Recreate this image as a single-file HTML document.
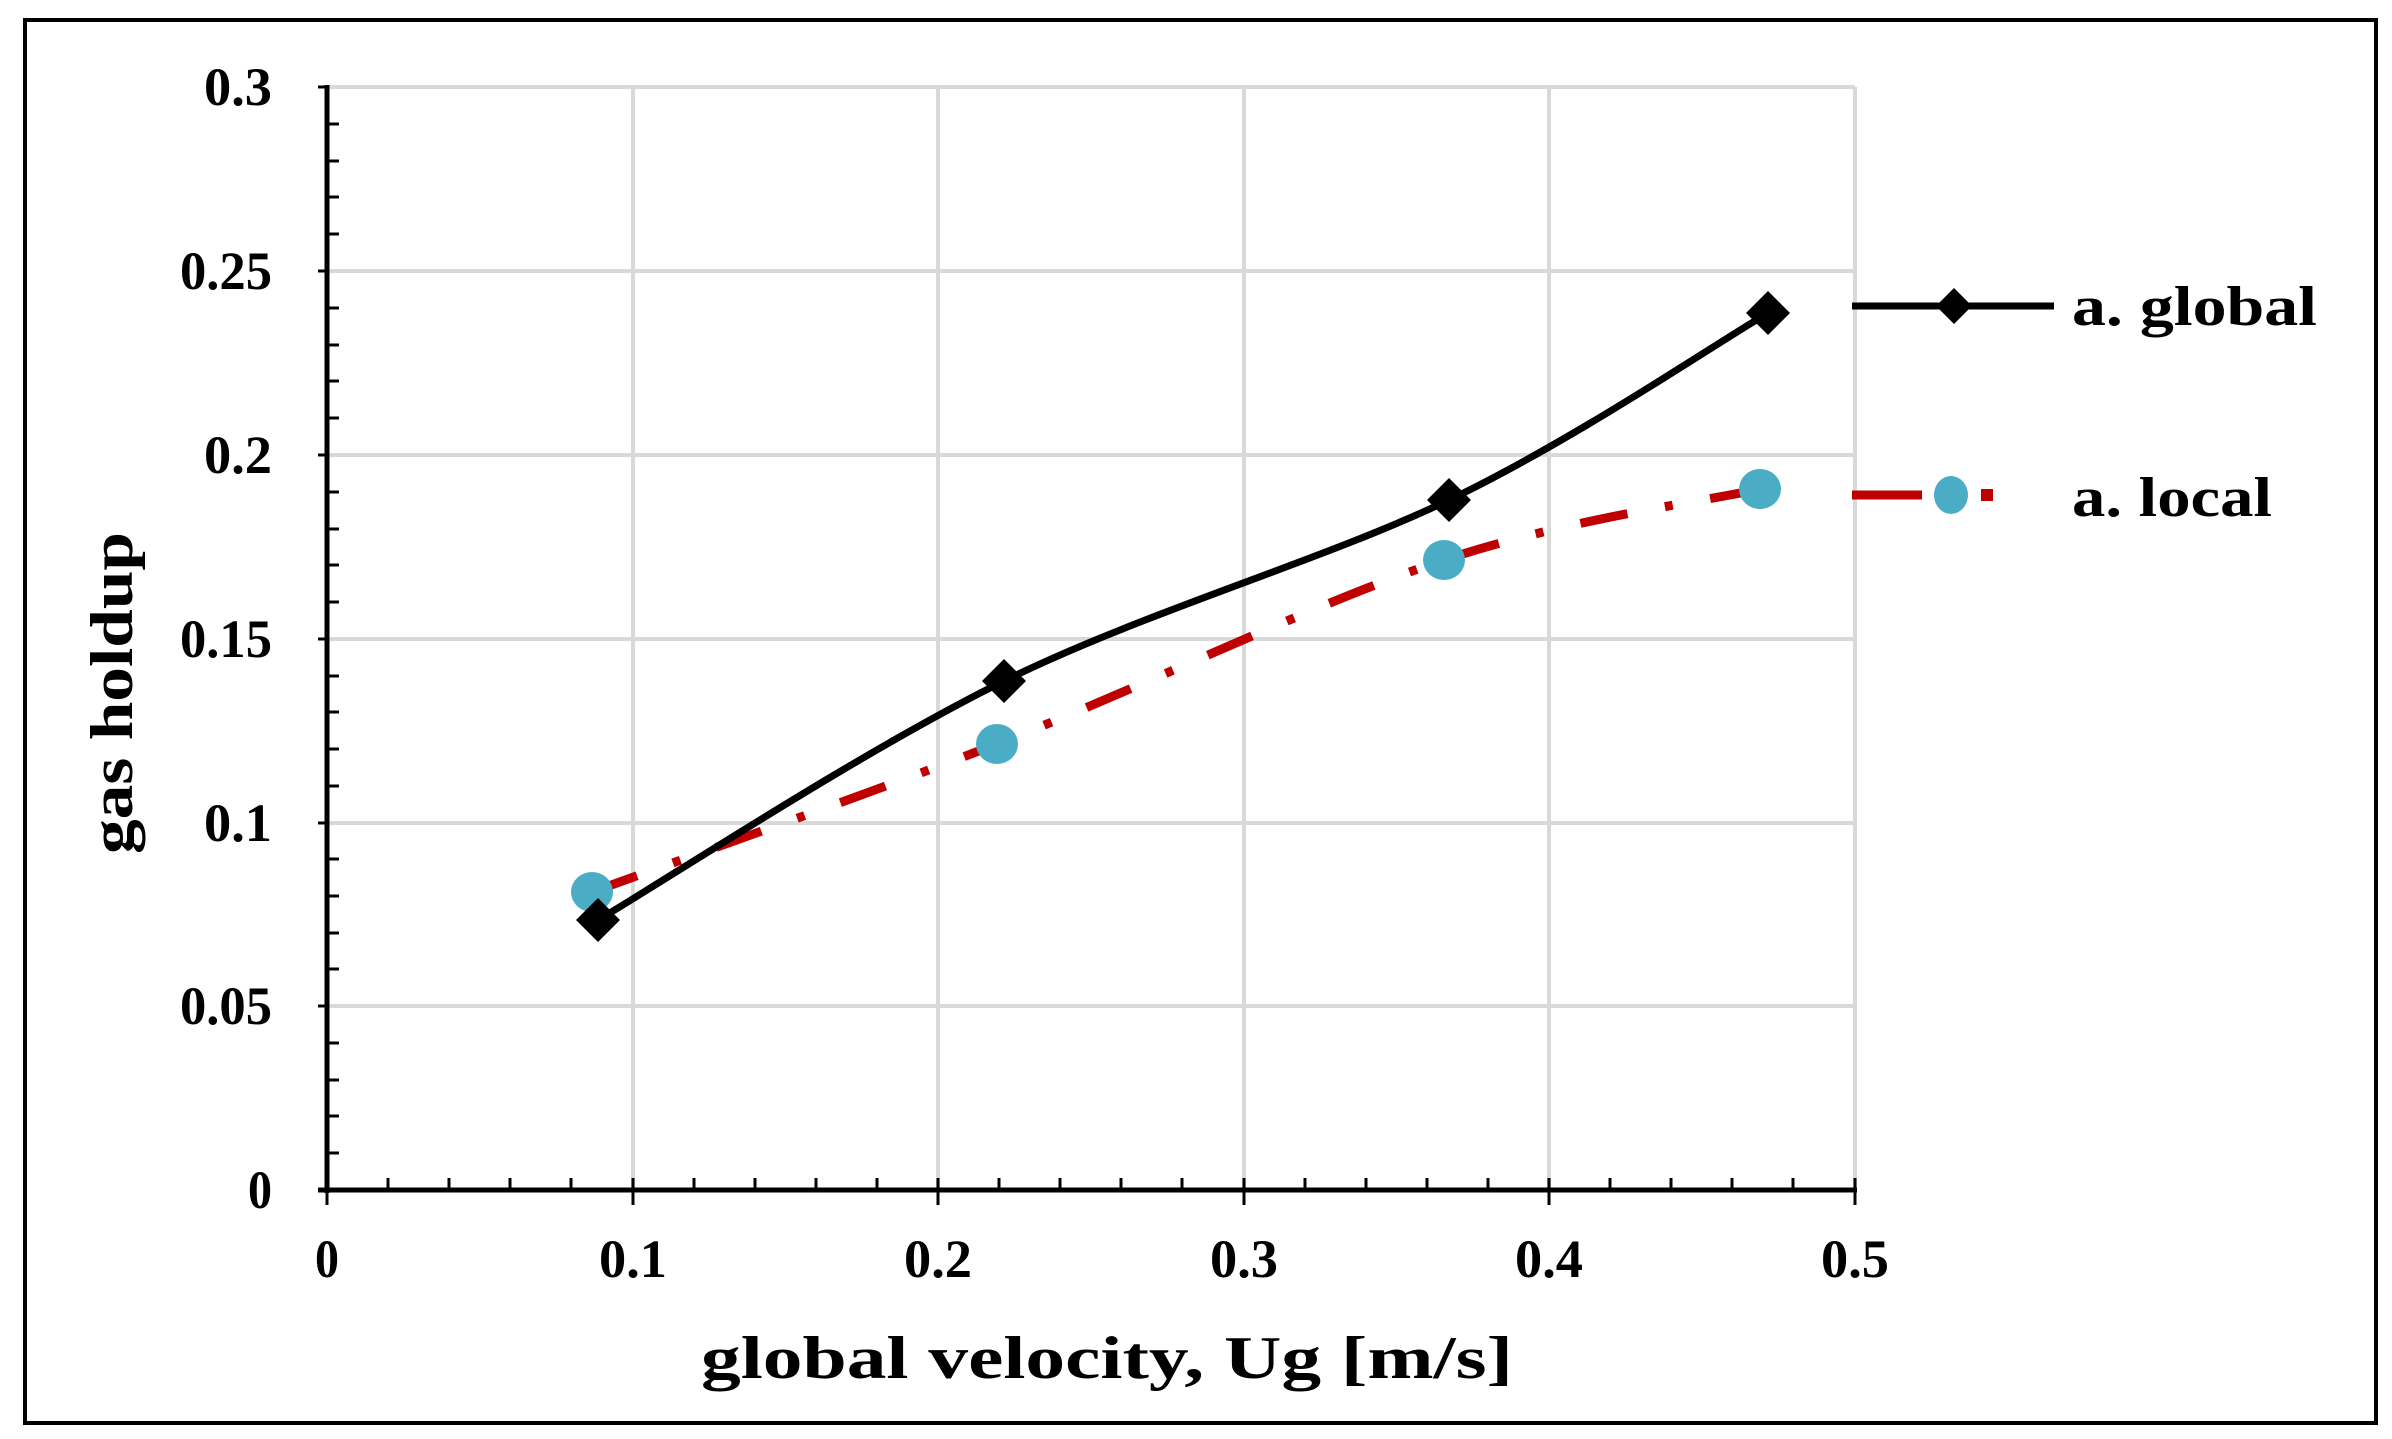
<!DOCTYPE html>
<html><head><meta charset="utf-8"><style>html,body{margin:0;padding:0;background:#fff}svg{display:block}</style></head><body>
<svg width="2392" height="1439" viewBox="0 0 2392 1439" xmlns="http://www.w3.org/2000/svg" font-family="Liberation Serif, serif" font-weight="bold">
<rect x="0" y="0" width="2392" height="1439" fill="#fff"/>
<rect x="25" y="20" width="2351" height="1403" fill="none" stroke="#000" stroke-width="4"/>
<g stroke="#d9d9d9" stroke-width="4">
<line x1="327" y1="271" x2="1855" y2="271"/><line x1="327" y1="455" x2="1855" y2="455"/><line x1="327" y1="639" x2="1855" y2="639"/><line x1="327" y1="823" x2="1855" y2="823"/><line x1="327" y1="1006" x2="1855" y2="1006"/><line x1="327" y1="87" x2="1855" y2="87"/>
<line x1="633" y1="87" x2="633" y2="1190"/><line x1="938" y1="87" x2="938" y2="1190"/><line x1="1244" y1="87" x2="1244" y2="1190"/><line x1="1549" y1="87" x2="1549" y2="1190"/><line x1="1855" y1="87" x2="1855" y2="1190"/>
</g>
<g stroke="#000" stroke-width="3">
<line x1="327" y1="1153" x2="339" y2="1153"/><line x1="327" y1="1116" x2="339" y2="1116"/><line x1="327" y1="1080" x2="339" y2="1080"/><line x1="327" y1="1043" x2="339" y2="1043"/>
<line x1="327" y1="969" x2="339" y2="969"/><line x1="327" y1="933" x2="339" y2="933"/><line x1="327" y1="896" x2="339" y2="896"/><line x1="327" y1="859" x2="339" y2="859"/>
<line x1="327" y1="786" x2="339" y2="786"/><line x1="327" y1="749" x2="339" y2="749"/><line x1="327" y1="712" x2="339" y2="712"/><line x1="327" y1="676" x2="339" y2="676"/>
<line x1="327" y1="602" x2="339" y2="602"/><line x1="327" y1="565" x2="339" y2="565"/><line x1="327" y1="529" x2="339" y2="529"/><line x1="327" y1="492" x2="339" y2="492"/>
<line x1="327" y1="418" x2="339" y2="418"/><line x1="327" y1="381" x2="339" y2="381"/><line x1="327" y1="345" x2="339" y2="345"/><line x1="327" y1="308" x2="339" y2="308"/>
<line x1="327" y1="234" x2="339" y2="234"/><line x1="327" y1="197" x2="339" y2="197"/><line x1="327" y1="161" x2="339" y2="161"/><line x1="327" y1="124" x2="339" y2="124"/>
<line x1="318" y1="87" x2="327" y2="87"/><line x1="318" y1="271" x2="327" y2="271"/><line x1="318" y1="455" x2="327" y2="455"/><line x1="318" y1="639" x2="327" y2="639"/><line x1="318" y1="823" x2="327" y2="823"/><line x1="318" y1="1006" x2="327" y2="1006"/><line x1="318" y1="1190" x2="327" y2="1190"/>
</g>
<g stroke="#000" stroke-width="3">
<line x1="388" y1="1178" x2="388" y2="1190"/><line x1="449" y1="1178" x2="449" y2="1190"/><line x1="510" y1="1178" x2="510" y2="1190"/><line x1="571" y1="1178" x2="571" y2="1190"/>
<line x1="694" y1="1178" x2="694" y2="1190"/><line x1="755" y1="1178" x2="755" y2="1190"/><line x1="816" y1="1178" x2="816" y2="1190"/><line x1="877" y1="1178" x2="877" y2="1190"/>
<line x1="999" y1="1178" x2="999" y2="1190"/><line x1="1060" y1="1178" x2="1060" y2="1190"/><line x1="1121" y1="1178" x2="1121" y2="1190"/><line x1="1182" y1="1178" x2="1182" y2="1190"/>
<line x1="1305" y1="1178" x2="1305" y2="1190"/><line x1="1366" y1="1178" x2="1366" y2="1190"/><line x1="1427" y1="1178" x2="1427" y2="1190"/><line x1="1488" y1="1178" x2="1488" y2="1190"/>
<line x1="1610" y1="1178" x2="1610" y2="1190"/><line x1="1671" y1="1178" x2="1671" y2="1190"/><line x1="1732" y1="1178" x2="1732" y2="1190"/><line x1="1793" y1="1178" x2="1793" y2="1190"/>
<line x1="327" y1="1190" x2="327" y2="1205"/><line x1="633" y1="1178" x2="633" y2="1205"/><line x1="938" y1="1178" x2="938" y2="1205"/><line x1="1244" y1="1178" x2="1244" y2="1205"/><line x1="1549" y1="1178" x2="1549" y2="1205"/><line x1="1855" y1="1178" x2="1855" y2="1205"/>
</g>
<line x1="327" y1="85" x2="327" y2="1193" stroke="#000" stroke-width="5"/>
<line x1="318" y1="1190" x2="1857" y2="1190" stroke="#000" stroke-width="5"/>
<g font-size="54" text-anchor="end" fill="#000" lengthAdjust="spacingAndGlyphs">
<text x="272" y="105" textLength="68" lengthAdjust="spacingAndGlyphs">0.3</text>
<text x="272" y="289" textLength="92" lengthAdjust="spacingAndGlyphs">0.25</text>
<text x="272" y="473" textLength="68" lengthAdjust="spacingAndGlyphs">0.2</text>
<text x="272" y="657" textLength="92" lengthAdjust="spacingAndGlyphs">0.15</text>
<text x="272" y="841" textLength="68" lengthAdjust="spacingAndGlyphs">0.1</text>
<text x="272" y="1024" textLength="92" lengthAdjust="spacingAndGlyphs">0.05</text>
<text x="272" y="1208" textLength="24" lengthAdjust="spacingAndGlyphs">0</text>
</g>
<g font-size="54" text-anchor="middle" fill="#000">
<text x="327" y="1277" textLength="24" lengthAdjust="spacingAndGlyphs">0</text>
<text x="633" y="1277" textLength="68" lengthAdjust="spacingAndGlyphs">0.1</text>
<text x="938" y="1277" textLength="68" lengthAdjust="spacingAndGlyphs">0.2</text>
<text x="1244" y="1277" textLength="68" lengthAdjust="spacingAndGlyphs">0.3</text>
<text x="1549" y="1277" textLength="68" lengthAdjust="spacingAndGlyphs">0.4</text>
<text x="1855" y="1277" textLength="68" lengthAdjust="spacingAndGlyphs">0.5</text>
</g>
<text x="1107" y="1378" font-size="60" text-anchor="middle" textLength="812" lengthAdjust="spacingAndGlyphs">global velocity, Ug [m/s]</text>
<text transform="translate(132,693) rotate(-90)" font-size="60" text-anchor="middle" textLength="322" lengthAdjust="spacingAndGlyphs">gas holdup</text>
<path d="M592,892 C660,867 855,799 997,744 C1139,689 1317,602 1444,560 C1571,518 1707,501 1760,489" fill="none" stroke="#c00000" stroke-width="9" stroke-dasharray="48 38 8 38"/>
<path d="M598,920 C666,880 862,751 1004,681 C1146,611 1322,561 1449,500 C1576,439 1715,344 1768,313" fill="none" stroke="#000" stroke-width="7"/>
<g fill="#4bacc6">
<ellipse cx="592" cy="892" rx="21" ry="20"/><ellipse cx="997" cy="744" rx="21" ry="20"/><ellipse cx="1444" cy="560" rx="21" ry="20"/><ellipse cx="1760" cy="489" rx="21" ry="20"/>
</g>
<g fill="#000">
<path d="M598,898 l22,22 l-22,22 l-22,-22z"/><path d="M1004,659 l22,22 l-22,22 l-22,-22z"/><path d="M1449,478 l22,22 l-22,22 l-22,-22z"/><path d="M1768,291 l22,22 l-22,22 l-22,-22z"/>
</g>
<line x1="1852" y1="306" x2="2054" y2="306" stroke="#000" stroke-width="7"/>
<path d="M1954,288 l18,18 l-18,18 l-18,-18z" fill="#000"/>
<line x1="1852" y1="495" x2="1922" y2="495" stroke="#c00000" stroke-width="9"/>
<rect x="1981" y="489" width="12" height="12" fill="#c00000"/>
<ellipse cx="1951" cy="495" rx="17" ry="19" fill="#4bacc6"/>
<text x="2072" y="325" font-size="56" textLength="245" lengthAdjust="spacingAndGlyphs">a. global</text>
<text x="2072" y="516" font-size="56" textLength="200" lengthAdjust="spacingAndGlyphs">a. local</text>
</svg>
</body></html>
